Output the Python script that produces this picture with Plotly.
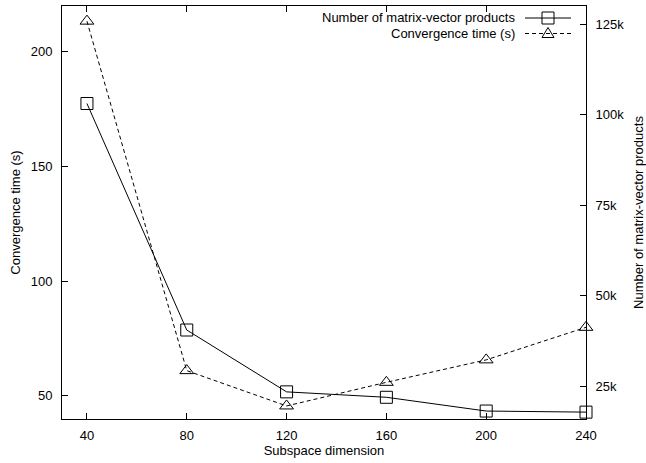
import plotly.graph_objects as go

# ---- data ----
subspace_dim = [40, 80, 120, 160, 200, 240]
matvec_products = [103100, 40500, 23400, 21900, 18100, 17800]   # right axis
conv_time_s = [213.4, 60.9, 45.5, 55.8, 65.6, 79.8]              # left axis

x_ticks = [40, 80, 120, 160, 200, 240]
y_ticks = [50, 100, 150, 200]
y2_ticks = [25000, 50000, 75000, 100000, 125000]
y2_ticktext = ["25k", "50k", "75k", "100k", "125k"]

name_mv = "Number of matrix-vector products"
name_ct = "Convergence time (s)"

FONT = "Liberation Sans, Arial, Helvetica, sans-serif"
W, H = 646, 463
L, R, T, B = 62, 60, 6, 44

fig = go.Figure()
fig.add_trace(go.Scatter(
    x=subspace_dim, y=matvec_products, name=name_mv, yaxis="y2",
    mode="lines+markers", cliponaxis=False, showlegend=False,
    line=dict(color="black", width=1),
    marker=dict(symbol="square-open", size=12, color="black", line=dict(width=1, color="black")),
))
fig.add_trace(go.Scatter(
    x=subspace_dim, y=conv_time_s, name=name_ct, yaxis="y",
    mode="lines+markers", cliponaxis=False, showlegend=False,
    line=dict(color="black", width=1, dash="4px,3px"),
    marker=dict(symbol="triangle-up-open", size=12, color="black", line=dict(width=1, color="black")),
))

axis_common = dict(
    showgrid=False, zeroline=False, showline=True, linecolor="black", linewidth=1,
    ticks="inside", ticklen=6, tickcolor="black", tickwidth=1,
    tickfont=dict(family=FONT, size=13, color="black"),
)

fig.update_layout(
    width=W, height=H,
    margin=dict(l=L, r=R, t=T, b=B, autoexpand=False),
    paper_bgcolor="white", plot_bgcolor="white",
    font=dict(family=FONT, size=13, color="black"),
    xaxis=dict(
        range=[30, 240], tickvals=x_ticks, mirror="ticks",
        title=dict(text="Subspace dimension", font=dict(family=FONT, size=13), standoff=2),
        ticklabelstandoff=4,
        **axis_common,
    ),
    yaxis=dict(
        range=[39.8, 220], tickvals=y_ticks,
        title=dict(text="Convergence time (s)", font=dict(family=FONT, size=13), standoff=7),
        ticklabelstandoff=6,
        **axis_common,
    ),
    yaxis2=dict(
        range=[15900, 130050], tickvals=y2_ticks, ticktext=y2_ticktext,
        overlaying="y", side="right",
        title=dict(text="Number of matrix-vector products", font=dict(family=FONT, size=13), standoff=12),
        ticklabelstandoff=6,
        **axis_common,
    ),
)

# ---- manual gnuplot-style legend (text left of sample) ----
def px_x(px):
    return (px - L) / (W - L - R)

def px_y(py):
    return (H - B - py) / (H - T - B)

rows = [(18, name_mv, "solid", "square"), (33.5, name_ct, "dash", "triangle")]
line_x0, line_x1, mk_x = 525, 571, 548
for py, text, dash, mk in rows:
    fig.add_annotation(
        x=px_x(517), y=px_y(py), xref="paper", yref="paper",
        text=text, showarrow=False, xanchor="right", yanchor="middle",
        font=dict(family=FONT, size=13, color="black"),
    )
    fig.add_shape(
        type="line", xref="paper", yref="paper",
        x0=px_x(line_x0), x1=px_x(line_x1), y0=px_y(py), y1=px_y(py),
        line=dict(color="black", width=1, dash="solid" if dash == "solid" else "4px,3px"),
    )
    if mk == "square":
        fig.add_shape(
            type="rect", xref="paper", yref="paper",
            xsizemode="pixel", ysizemode="pixel",
            xanchor=px_x(mk_x), yanchor=px_y(py),
            x0=-6, x1=6, y0=-6, y1=6,
            line=dict(color="black", width=1), fillcolor="rgba(0,0,0,0)",
        )
    else:
        fig.add_shape(
            type="path", xref="paper", yref="paper",
            xsizemode="pixel", ysizemode="pixel",
            xanchor=px_x(mk_x), yanchor=px_y(py),
            path="M -6,-4 L 6,-4 L 0,6 Z",
            line=dict(color="black", width=1), fillcolor="rgba(0,0,0,0)",
        )

fig.write_html(
    "out.html",
    config={"displayModeBar": False},
    post_script="document.body.style.margin='0';document.body.style.padding='0';",
)
